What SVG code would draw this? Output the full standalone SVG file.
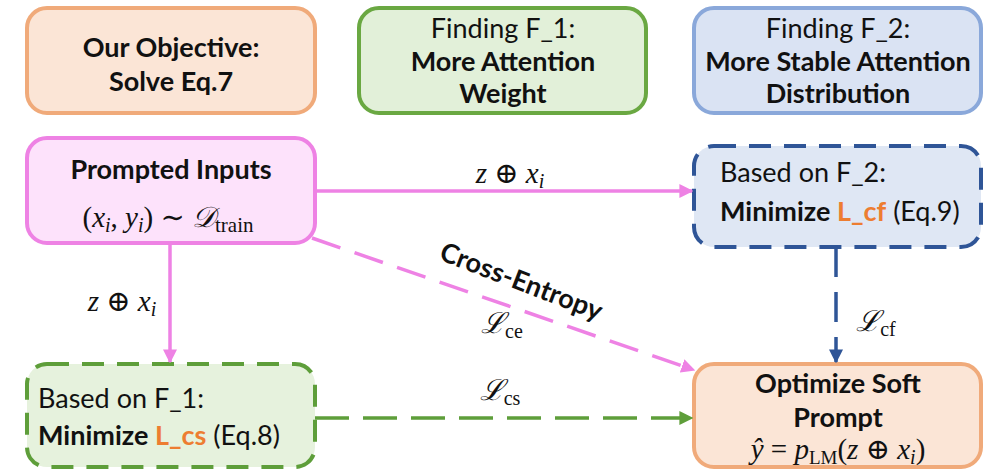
<svg xmlns="http://www.w3.org/2000/svg" width="993" height="473" viewBox="0 0 993 473">
<defs>
<marker id="ap" viewBox="0 0 10 10" refX="9" refY="5" markerWidth="4" markerHeight="4" orient="auto" markerUnits="strokeWidth"><path d="M0,0 L10,5 L0,10 z" fill="#ee82e4"/></marker>
<marker id="ab" viewBox="0 0 10 10" refX="9" refY="5" markerWidth="4" markerHeight="4" orient="auto" markerUnits="strokeWidth"><path d="M0,0 L10,5 L0,10 z" fill="#2f5597"/></marker>
<marker id="ag" viewBox="0 0 10 10" refX="9" refY="5" markerWidth="4" markerHeight="4" orient="auto" markerUnits="strokeWidth"><path d="M0,0 L10,5 L0,10 z" fill="#5e9e3a"/></marker>
</defs>
<style>
.box{stroke-width:4}
.orange{fill:#fbe5d6;stroke:#f0aa7a}
.green{fill:#e2f0d9;stroke:#6aa842}
.blue{fill:#dae3f3;stroke:#8aa8da}
.pink{fill:#fde2fb;stroke:#ee82e4}
.dblue{fill:#dfe7f4;stroke:#2f5597;stroke-dasharray:22 13}
.dgreen{fill:#e6f2dd;stroke:#5e9e3a;stroke-dasharray:22 13}
text{font-family:Lato,"Open Sans","Liberation Sans",sans-serif;font-size:27px;fill:#111}
.b{font-weight:bold;text-anchor:middle}
.n{text-anchor:middle}
.l{text-anchor:start}
.mc{font-family:"Liberation Serif","DejaVu Serif",serif;font-size:29px;text-anchor:middle}
.it{font-style:italic}
.or{fill:#ed7d31;font-weight:bold}
</style>
<g id="objective"><rect class="box orange" x="27" y="8" width="288" height="105" rx="20"/>
<text class="b" x="171" y="57">Our Objective:</text><text class="b" x="171" y="91">Solve Eq.7</text></g>
<g id="finding1"><rect class="box green" x="359" y="8" width="287" height="105" rx="20"/>
<text class="n" x="503" y="38">Finding F_1:</text><text class="b" x="503" y="71">More Attention</text><text class="b" x="503" y="103">Weight</text></g>
<g id="finding2"><rect class="box blue" x="694" y="8" width="287" height="105" rx="20"/>
<text class="n" x="838" y="38">Finding F_2:</text><text class="b" x="838" y="71" font-size="27.5">More Stable Attention</text><text class="b" x="838" y="103">Distribution</text></g>
<g id="prompted"><rect class="box pink" x="27" y="138" width="288" height="105" rx="20"/>
<text class="b" x="171" y="179">Prompted Inputs</text>
<text class="mc" x="168" y="227">(<tspan class="it">x</tspan><tspan class="it" font-size="20" dy="5">i</tspan><tspan dy="-5">, </tspan><tspan class="it">y</tspan><tspan class="it" font-size="20" dy="5">i</tspan><tspan dy="-5">) ∼ </tspan><tspan class="it">𝒟</tspan><tspan font-size="21" dy="5">train</tspan></text></g>
<g id="basedF2"><rect class="box dblue" x="694" y="146" width="287" height="101" rx="20"/>
<text class="l" x="720" y="182">Based on F_2:</text>
<text class="l" x="720" y="221"><tspan font-weight="bold">Minimize </tspan><tspan class="or">L_cf</tspan> (Eq.9)</text></g>
<g id="basedF1"><rect class="box dgreen" x="27" y="364" width="288" height="103" rx="20"/>
<text class="l" x="38" y="408">Based on F_1:</text>
<text class="l" x="38" y="445"><tspan font-weight="bold">Minimize </tspan><tspan class="or">L_cs</tspan> (Eq.8)</text></g>
<g id="optimize"><rect class="box orange" x="694" y="364" width="287" height="103" rx="20"/>
<text class="b" x="838" y="393">Optimize Soft</text><text class="b" x="838" y="427">Prompt</text>
<text class="mc" x="838" y="459"><tspan class="it">ŷ</tspan> = <tspan class="it">p</tspan><tspan font-size="19" dy="5">LM</tspan><tspan dy="-5">(</tspan><tspan class="it">z</tspan> ⊕ <tspan class="it">x</tspan><tspan class="it" font-size="20" dy="5">i</tspan><tspan dy="-5">)</tspan></text></g>
<g id="connectors">
<line x1="315" y1="191" x2="692" y2="191" stroke="#ee82e4" stroke-width="3.5" marker-end="url(#ap)"/>
<line x1="170" y1="243" x2="170" y2="362" stroke="#ee82e4" stroke-width="3.5" marker-end="url(#ap)"/>
<line x1="312" y1="238" x2="694" y2="370" stroke="#ee82e4" stroke-width="3.5" stroke-dasharray="30 15" marker-end="url(#ap)"/>
<line x1="836" y1="247" x2="836" y2="362" stroke="#2f5597" stroke-width="3.5" stroke-dasharray="30 15" marker-end="url(#ab)"/>
<line x1="315" y1="418" x2="692" y2="418" stroke="#5e9e3a" stroke-width="3.5" stroke-dasharray="34 14" marker-end="url(#ag)"/>
<text class="mc" x="510" y="183"><tspan class="it">z</tspan>  ⊕  <tspan class="it">x</tspan><tspan class="it" font-size="20" dy="5">i</tspan></text>
<text class="mc" x="122" y="311"><tspan class="it">z</tspan>  ⊕  <tspan class="it">x</tspan><tspan class="it" font-size="20" dy="5">i</tspan></text>
<text font-weight="bold" font-size="23" text-anchor="middle" transform="translate(518,290) rotate(21)">Cross-Entropy</text>
<text class="mc" x="502" y="333"><tspan class="it">ℒ</tspan><tspan font-size="20" dy="5">ce</tspan></text>
<text class="mc" x="500" y="400"><tspan class="it">ℒ</tspan><tspan font-size="20" dy="5">cs</tspan></text>
<text class="mc" x="876" y="331"><tspan class="it">ℒ</tspan><tspan font-size="20" dy="5">cf</tspan></text>
</g>
</svg>
